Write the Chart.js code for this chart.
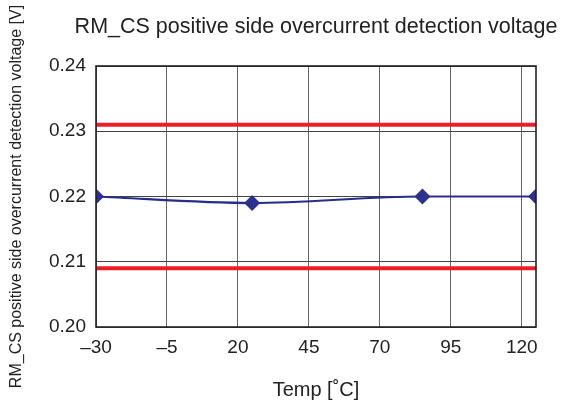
<!DOCTYPE html>
<html lang="en">
<head>
    <meta charset="UTF-8">
    <title>RM_CS positive side overcurrent detection voltage</title>
    <script src="https://cdn.jsdelivr.net/npm/chart.js@4/dist/chart.umd.min.js"></script>
    <style>
        body { margin: 0; background: #fff; }
        #wrap { width: 567px; height: 410px; }
    </style>
</head>
<body>
    <div id="wrap"><canvas id="chart" width="567" height="410"></canvas></div>
    <script>
        // data
        const temps = [-30, 25, 85, 125];
        const volts = [0.220, 0.219, 0.220, 0.220];
        const limitTemps = [-30, 125];
        const upperLimit = [0.231, 0.231];
        const lowerLimit = [0.209, 0.209];
        const xTicks = [-30, -5, 20, 45, 70, 95, 120];
        const yTicks = [0.20, 0.21, 0.22, 0.23, 0.24];

        const titleText = 'RM_CS positive side overcurrent detection voltage';
        const font = 'Liberation Sans, Arial, sans-serif';

        const toPoints = (xs, ys) => xs.map((x, i) => ({ x: x, y: ys[i] }));

        // title over the plot area, plus the box around it
        const framePlugin = {
            id: 'frame',
            afterDraw(chart) {
                const a = chart.chartArea, ctx = chart.ctx;
                ctx.save();
                ctx.strokeStyle = '#222';
                ctx.lineWidth = 1.6;
                ctx.strokeRect(a.left, a.top, a.right - a.left, a.bottom - a.top);
                ctx.fillStyle = '#222';
                ctx.font = '21.5px ' + font;
                ctx.textAlign = 'center';
                ctx.textBaseline = 'middle';
                ctx.fillText(titleText, (a.left + a.right) / 2, 27);
                ctx.restore();
            }
        };

        new Chart(document.getElementById('chart'), {
            type: 'line',
            data: {
                datasets: [
                    {
                        data: toPoints(temps, volts),
                        borderColor: '#262d8c',
                        backgroundColor: '#2b3190',
                        borderWidth: 2.2,
                        pointStyle: 'rectRot',
                        pointRadius: 8,
                        pointBorderWidth: 0,
                        cubicInterpolationMode: 'monotone',
                        order: 0
                    },
                    {
                        data: toPoints(limitTemps, upperLimit),
                        borderColor: '#ee1c25',
                        borderWidth: 4,
                        pointRadius: 0,
                        order: 1
                    },
                    {
                        data: toPoints(limitTemps, lowerLimit),
                        borderColor: '#ee1c25',
                        borderWidth: 4,
                        pointRadius: 0,
                        order: 1
                    }
                ]
            },
            options: {
                responsive: false,
                animation: false,
                layout: { padding: { left: 0, right: 31, top: 66, bottom: 0 } },
                plugins: { legend: { display: false }, tooltip: { enabled: false } },
                scales: {
                    x: {
                        type: 'linear',
                        min: -30,
                        max: 125,
                        afterBuildTicks: s => { s.ticks = xTicks.map(v => ({ value: v })); },
                        afterFit: s => { s.height = 83; },
                        ticks: {
                            color: '#222',
                            font: { family: font, size: 19 },
                            padding: 9,
                            maxRotation: 0,
                            callback: v => (v < 0 ? '\u2013' + Math.abs(v) : String(v))
                        },
                        grid: { color: '#666', lineWidth: 1, tickLength: 0 },
                        border: { display: false },
                        title: {
                            display: true,
                            text: 'Temp [\u02daC]',
                            color: '#222',
                            font: { family: font, size: 20 },
                            padding: { top: 0, bottom: 8 }
                        }
                    },
                    y: {
                        min: 0.20,
                        max: 0.24,
                        afterBuildTicks: s => { s.ticks = yTicks.map(v => ({ value: v })); },
                        afterFit: s => { s.width = 96; },
                        ticks: {
                            color: '#222',
                            font: { family: font, size: 19 },
                            padding: 10,
                            callback: v => v.toFixed(2)
                        },
                        grid: { color: '#444', lineWidth: 1, tickLength: 0 },
                        border: { display: false },
                        title: {
                            display: true,
                            text: 'RM_CS positive side overcurrent detection voltage [V]',
                            color: '#222',
                            font: { family: font, size: 16 },
                            padding: { top: 7, bottom: 0 }
                        }
                    }
                }
            },
            plugins: [framePlugin]
        });
    </script>
</body>
</html>
